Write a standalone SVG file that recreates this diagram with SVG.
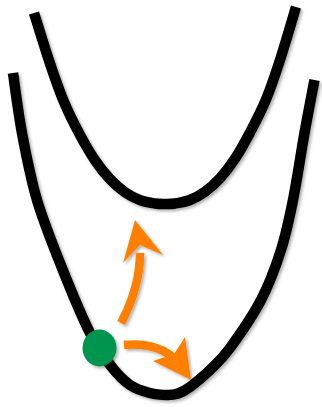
<svg xmlns="http://www.w3.org/2000/svg" width="322" height="407" viewBox="0 0 322 407">
<defs>
<filter id="sh" x="-20%" y="-20%" width="140%" height="140%">
<feDropShadow dx="2" dy="2" stdDeviation="1.5" flood-color="#000" flood-opacity="0.3"/>
</filter>
</defs>
<style>
.well{fill:none;stroke:#000;stroke-width:10.5;stroke-linecap:butt;stroke-linejoin:round;filter:url(#sh)}
.shaft{fill:none;stroke:#FF8000;stroke-width:8.5;stroke-linecap:butt}
.head{fill:#FF8000;stroke:none}
.arrow{filter:url(#sh)}
</style>
<rect width="322" height="407" fill="#fff"/>
<g id="upper-well">
<path class="well" d="M34,13 C36.67,21.42 45,48.67 50,63.5 C55,78.33 59,90.1 64,102 C69,113.9 74.83,125.2 80,134.9 C85.17,144.6 90,152.82 95,160.2 C100,167.58 105,173.87 110,179.2 C115,184.53 120,188.72 125,192.2 C130,195.68 135,198.22 140,200.1 C145,201.98 150.83,202.85 155,203.5 C159.17,204.15 161.67,204 165,204 C168.33,204 170.83,204.17 175,203.5 C179.17,202.83 185,201.95 190,200 C195,198.05 200,195.42 205,191.8 C210,188.18 215,183.82 220,178.3 C225,172.78 230,166.33 235,158.7 C240,151.07 244.83,142.37 250,132.5 C255.17,122.63 261,111.58 266,99.5 C271,87.42 275,75.42 280,60 C285,44.58 293.33,15.83 296,7"/>
</g>
<g id="lower-well">
<path class="well" d="M13,73 C14.5,83 18,111.83 22,133 C26,154.17 30.33,177.5 37,200 C43.67,222.5 53.17,245.83 62,268 C70.83,290.17 81.83,316.67 90,333 C98.17,349.33 104.33,357.33 111,366 C117.67,374.67 123.5,380.5 130,385 C136.5,389.5 143.83,391.33 150,393 C156.17,394.67 162.33,394.92 167,395 C171.67,395.08 174.17,394.83 178,393.5 C181.83,392.17 184.67,390.92 190,387 C195.33,383.08 203.33,376.5 210,370 C216.67,363.5 221.5,359.67 230,348 C238.5,336.33 252.5,316.33 261,300 C269.5,283.67 275.67,266.67 281,250 C286.33,233.33 289.08,219.5 293,200 C296.92,180.5 300.92,153 304.5,133 C308.08,113 312.83,88.83 314.5,80"/>
</g>
<g id="connectors">
<g id="arrow-up" class="arrow">
<path class="shaft" d="M121,323 Q140,287 140,253"/>
<polygon class="head" points="135,220 163,255 140,245 123,263"/>
</g>
<g id="arrow-down" class="arrow">
<path class="shaft" d="M124,345 Q157,342 176,360"/>
<polygon class="head" points="191,380 185,337 174,354 153,361"/>
</g>
</g>
<g id="ball">
<ellipse cx="99.5" cy="348" rx="17" ry="18.5" fill="#00954F" filter="url(#sh)"/>
</g>
</svg>
